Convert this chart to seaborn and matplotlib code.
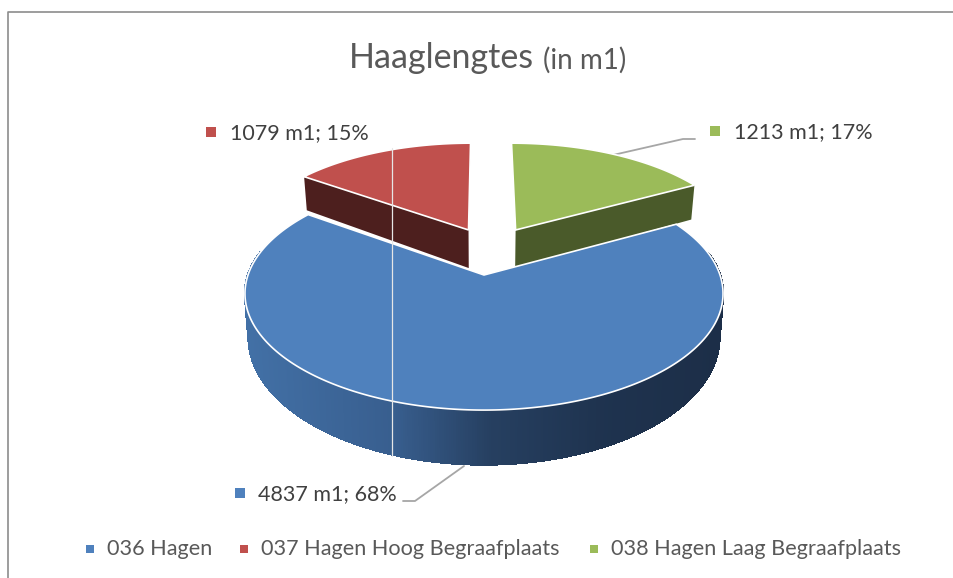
import numpy as np
import matplotlib
matplotlib.use('Agg')
import matplotlib.pyplot as plt
import seaborn as sns

# Haaglengtes per categorie
categories = ['036 Hagen', '037 Hagen Hoog Begraafplaats', '038 Hagen Laag Begraafplaats']
lengths = [4837, 1079, 1213]
percents = [68, 15, 17]

sns.set_theme(style='white')
plt.rcParams['font.family'] = ['Lato', 'DejaVu Sans']
colors = sns.color_palette(['#4f81bd', '#c0504d', '#9bbb59'])
wall_colors = ['#2a4a70', '#4d1f1e', '#4a5a2a']
text_color = '#404040'

# camera of the fake 3d pie, everything in pixels
cx, cy = 484, 275
rx, ry = 236, 113.6
persp = 0.159
depth = 42
offsets = [(0.0, 0.0), (-0.07, 0.423), (0.143, 0.423)]


def project(x, y, low=False):
    s = 1 / (1 + persp * y)
    px = rx * x * s
    py = -ry * y * s
    if low:
        return cx + px * 0.985, cy + py + depth * s ** 1.5
    return cx + px, cy + py


# slice angles, clockwise from 12 o'clock: green, then blue, then red
total = sum(lengths)
sweep = [360 * v / total for v in lengths]
start = {2: 90.0, 0: 90.0 - sweep[2], 1: 90.0 - sweep[2] - sweep[0]}


def arc(i, n=200):
    t = np.radians(np.linspace(start[i], start[i] - sweep[i], n))
    ox, oy = offsets[i]
    return ox + np.cos(t), oy + np.sin(t)


fig = plt.figure(figsize=(9.54, 5.78), dpi=100)
ax = fig.add_axes([0, 0, 1, 1])
ax.set_xlim(0, 954)
ax.set_ylim(578, 0)
ax.axis('off')

# chart border (only left and top are visible in the crop)
ax.plot([8, 8, 954], [578, 12, 12], color='#8c8c8c', lw=1.2, zorder=1)

# back slices: cut face then top
for i, corner in [(1, 0), (2, -1)]:
    ox, oy = offsets[i]
    x, y = arc(i)
    a = project(ox, oy)
    a2 = project(ox, oy, low=True)
    b = project(x[corner], y[corner])
    b2 = project(x[corner], y[corner], low=True)
    ax.fill([a[0], b[0], b2[0], a2[0]], [a[1], b[1], b2[1], a2[1]],
            color=wall_colors[i], lw=0, zorder=2)
    px, py = project(np.r_[ox, x], np.r_[oy, y])
    ax.fill(px, py, facecolor=colors[i], edgecolor='white', lw=1.2, zorder=3)

# blue outer wall with the left to right shading
stops_x = [245, 392, 490, 600, 725]
stops_c = np.array([[0.26, 0.44, 0.65], [0.22, 0.37, 0.56], [0.15, 0.25, 0.38],
                    [0.12, 0.20, 0.31], [0.11, 0.18, 0.28]])
x, y = arc(0, 500)
tx, ty = project(x, y)
bx, by = project(x, y, low=True)
for k in range(len(x) - 1):
    if y[k] > 0.2 and y[k + 1] > 0.2:
        continue
    shade = [np.interp(tx[k], stops_x, stops_c[:, c]) for c in range(3)]
    ax.fill([tx[k], tx[k + 1], bx[k + 1], bx[k]], [ty[k], ty[k + 1], by[k + 1], by[k]],
            facecolor=shade, edgecolor=shade, lw=1.0, antialiased=False, zorder=4)

# blue top
px, py = project(np.r_[0, x], np.r_[0, y])
ax.fill(px, py, facecolor=colors[0], edgecolor='white', lw=1.2, zorder=5)

# stray thin line that runs through the picture
ax.plot([392, 392], [148, 456], color='#e6e6e6', lw=0.9, zorder=6)

# title
ax.text(349, 58, 'Haaglengtes', fontsize=24.5, color='#595959', ha='left', va='center')
ax.text(543, 60, '(in m1)', fontsize=20, color='#595959', ha='left', va='center')

# data labels
label_pos = [(258, 494), (230, 133), (734, 132)]
marker_pos = [(240, 493), (211, 132), (715, 131)]
for i in range(3):
    ax.text(label_pos[i][0], label_pos[i][1], f'{lengths[i]} m1; {percents[i]}%',
            fontsize=15.5, color=text_color, ha='left', va='center')
    ax.scatter(*marker_pos[i], marker='s', s=42, color=colors[i], lw=0, zorder=7)

# leader lines
ax.plot([613, 683, 695], [155, 139, 139], color='#a6a6a6', lw=1.3, zorder=1)
ax.plot([464, 415, 403], [466, 501, 501], color='#a6a6a6', lw=1.3, zorder=1)

# legend
legend_marker = [90, 244, 594]
legend_text = [107, 261, 611]
for i in range(3):
    ax.scatter(legend_marker[i], 549, marker='s', s=36, color=colors[i], lw=0, zorder=7)
    ax.text(legend_text[i], 549, categories[i], fontsize=15.6, color='#595959',
            ha='left', va='center')

fig.savefig('out.png', dpi=100)
